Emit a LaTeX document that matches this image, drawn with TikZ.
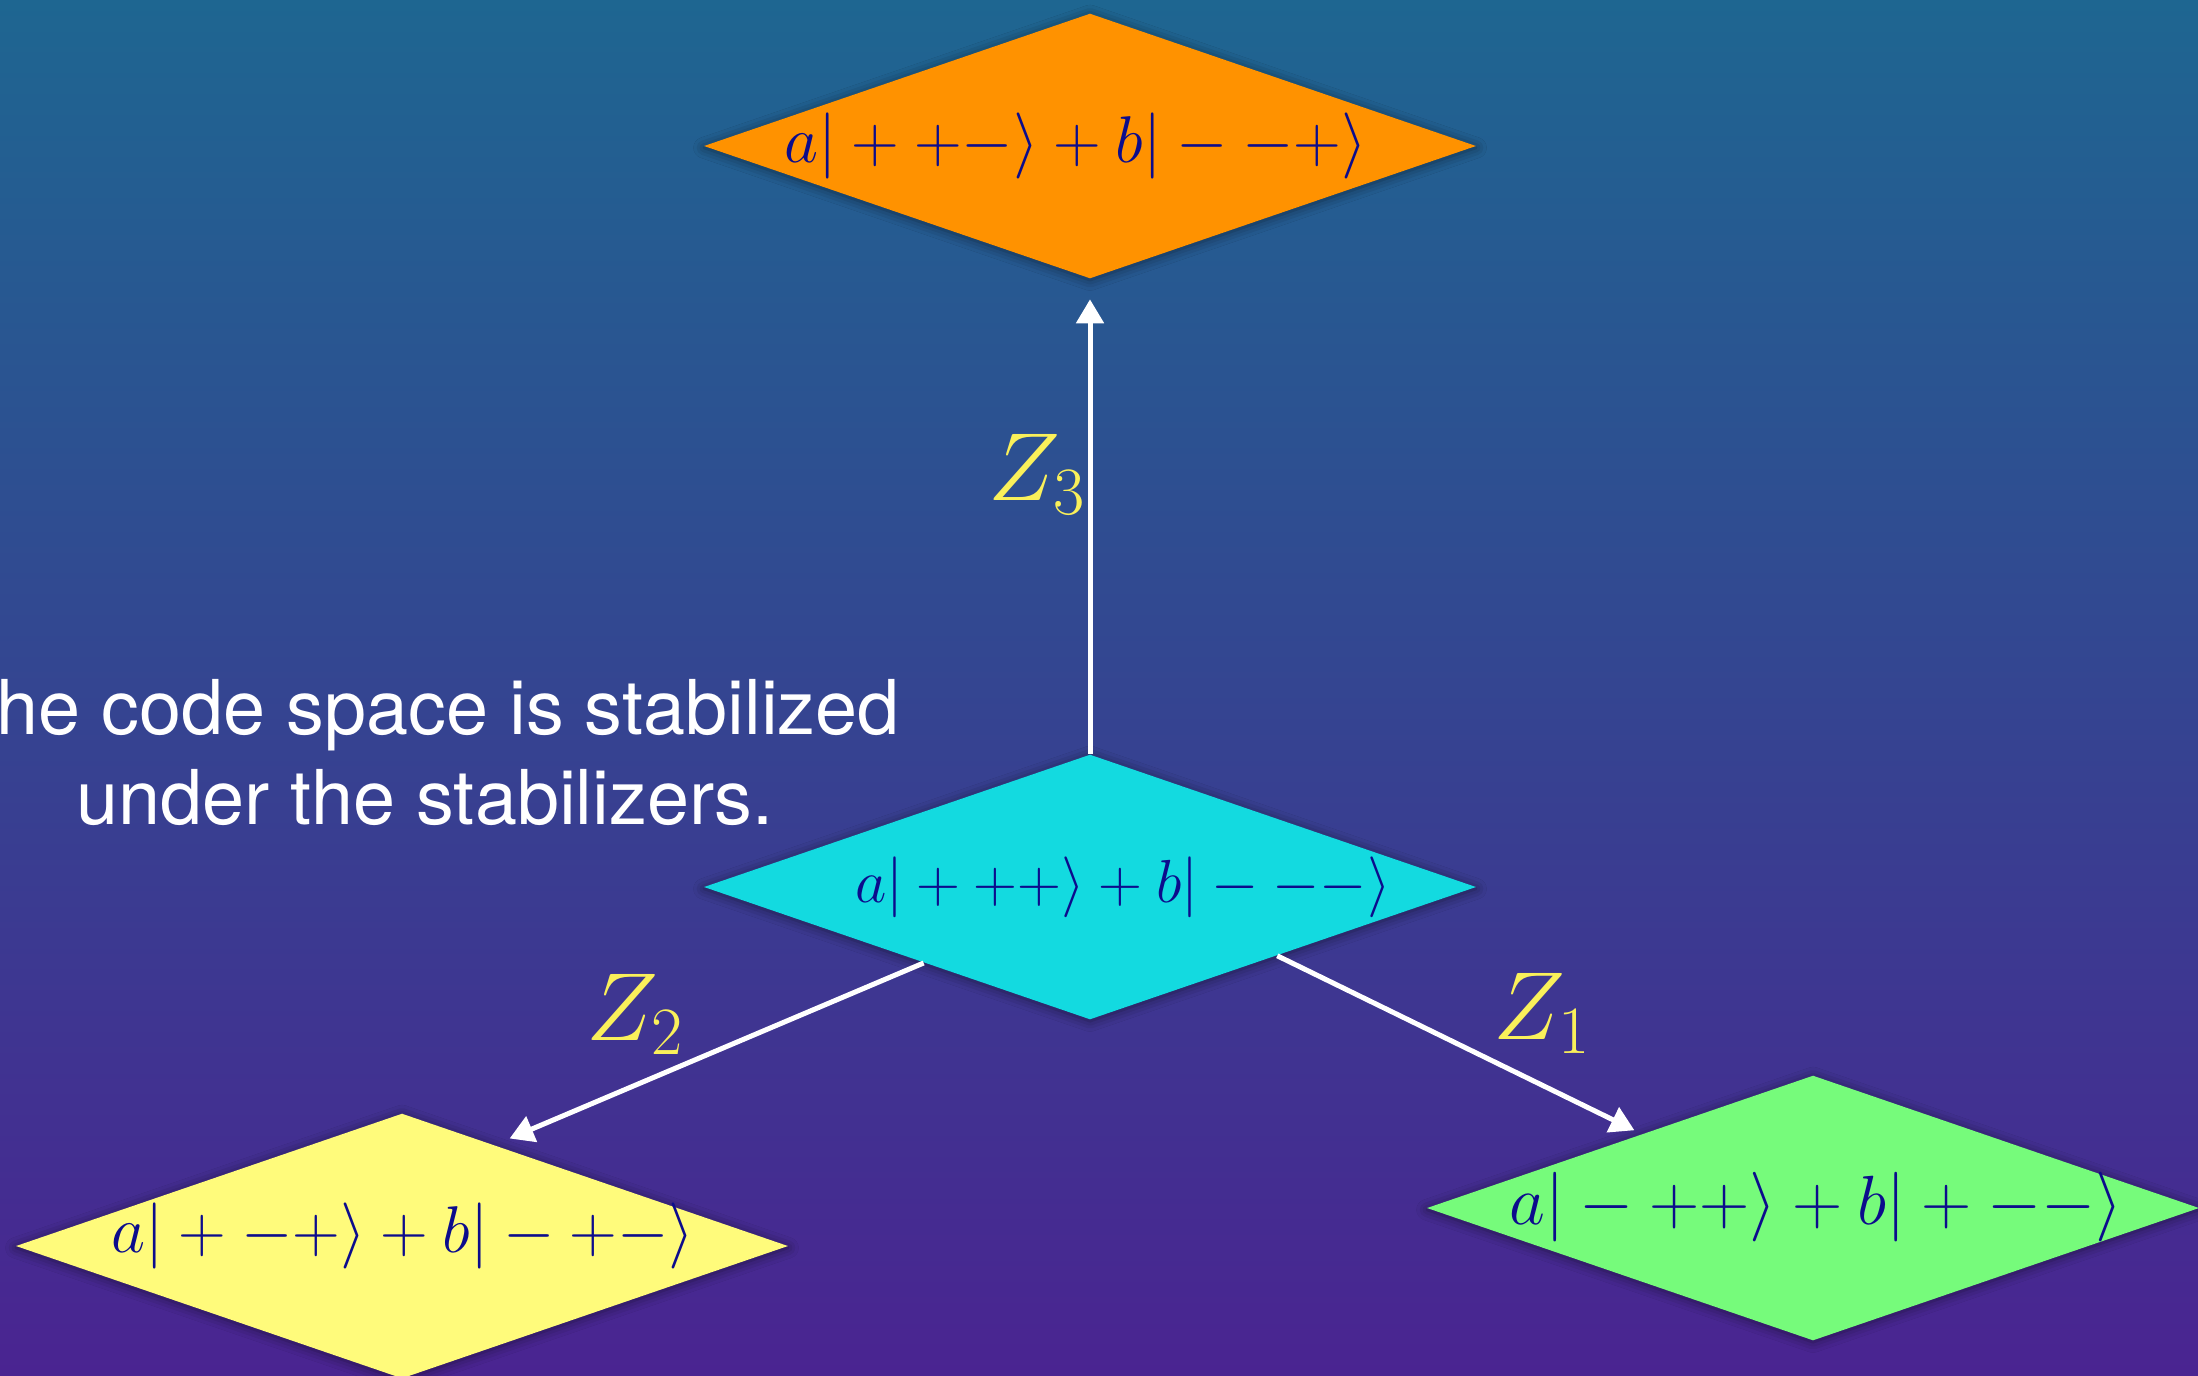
\RequirePackage{fix-cm}
\documentclass[tikz,border=0pt]{standalone}
\usepackage{fontspec}
\setsansfont{TeX Gyre Heros}
\usetikzlibrary{shapes.geometric,arrows.meta,calc,shadows.blur}
\definecolor{bgtop}{RGB}{30,102,145}
\definecolor{bgbot}{RGB}{74,36,145}
\definecolor{dorange}{RGB}{255,146,0}
\definecolor{dcyan}{RGB}{19,218,224}
\definecolor{dyellow}{RGB}{255,251,123}
\definecolor{dgreen}{RGB}{118,251,123}
\definecolor{ketblue}{RGB}{12,12,140}
\definecolor{zyellow}{RGB}{250,240,90}
\tikzset{
  statebox/.style={shape=diamond, draw=none, minimum width=7.72cm, minimum height=2.65cm, inner sep=0pt,
     blur shadow={shadow xshift=0pt, shadow yshift=-0.5pt, shadow blur radius=3pt, shadow opacity=50}},
  kettext/.style={text=ketblue, inner sep=0pt},
  oparrow/.style={draw=white, line width=0.05cm, -{Triangle[length=0.24cm, width=0.27cm]}},
  oplabel/.style={text=zyellow, inner sep=0pt, anchor=base west, font=\fontsize{27.5}{32}\selectfont},
}
\begin{document}
\begin{tikzpicture}[x=0.01cm, y=-0.01cm]
\useasboundingbox (0,0) rectangle (2198,1375);
\shade[top color=bgtop, bottom color=bgbot] (0,0) rectangle (2198,1375);

\node[statebox, fill=dorange] (orange) at (1090,146) {};
\node[statebox, fill=dcyan] (cyan) at (1090,887) {};
\node[statebox, fill=dyellow] (yellow) at (402,1246) {};
\node[statebox, fill=dgreen] (green) at (1813,1208) {};

\node[kettext, font=\fontsize{18.8}{22}\selectfont] (orangetxt) at (1076,146) {$a|++-\rangle+b|--+\rangle$};
\node[kettext, font=\fontsize{17.3}{20}\selectfont] (cyantxt) at (1123,887) {$a|+++\rangle+b|---\rangle$};
\node[kettext, font=\fontsize{18.8}{22}\selectfont] (yellowtxt) at (403,1236) {$a|+-+\rangle+b|-+-\rangle$};
\node[kettext, font=\fontsize{19.8}{23}\selectfont] (greentxt) at (1816,1207) {$a|-++\rangle+b|+--\rangle$};

\draw[oparrow, shorten >=0.2cm] (cyan.north) -- (orange.south);
\draw[oparrow, shorten >=0.16cm] ($(cyan.west)!0.57!(cyan.south)$) -- ($(yellow.north)!0.24!(yellow.east)$);
\draw[oparrow, shorten >=0.08cm] ($(cyan.south)!0.484!(cyan.east)$) -- ($(green.west)!0.557!(green.north)$);

\node[oplabel] (z3) at (988,500) {$Z_3$};
\node[oplabel] (z2) at (586,1040) {$Z_2$};
\node[oplabel] (z1) at (1493,1039) {$Z_1$};

\node[text=white, font=\sffamily\fontsize{21.5}{25.6}\selectfont, align=center, anchor=north, inner sep=0pt] (caption) at (425,679) {The code space is stabilized\\under the stabilizers.};
\end{tikzpicture}
\end{document}
